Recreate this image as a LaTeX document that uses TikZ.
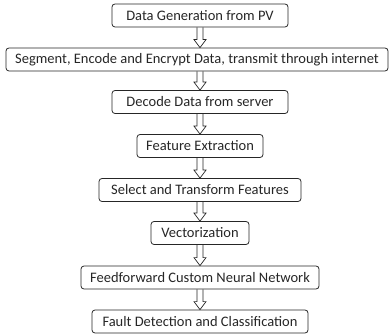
\documentclass[tikz,border=0pt]{standalone}
\usepackage{fontspec}
\setmainfont{Carlito}
\usetikzlibrary{calc}
\tikzset{
  stepbox/.style={draw=black!85, line width=0.8pt, rounded corners=3pt, minimum height=23pt,
    inner xsep=2pt, inner ysep=0pt, text=black!85, font=\fontsize{14.5}{16}\selectfont},
  flowarrow/.style={draw=black!85, line width=0.7pt, line join=miter}
}
% hollow down arrow from one box to the next, on the common axis
\newcommand{\flowstep}[2]{%
  \draw[flowarrow] ($(#1.south -| axis)+(-3pt,0)$) -- ($(#2.north -| axis)+(-3pt,8pt)$)
    -- ++(-3pt,0) -- (#2.north -| axis) -- ($(#2.north -| axis)+(6pt,8pt)$)
    -- ++(-3pt,0) -- ($(#1.south -| axis)+(3pt,0)$);}
\begin{document}
\begin{tikzpicture}[x=1pt,y=1pt]
  \useasboundingbox (0,0) rectangle (390,-336);
  \coordinate (axis) at (200,0);
  \node[stepbox, minimum width=176pt] (gen) at (200,-15.5) {Data Generation from PV};
  \node[stepbox, minimum width=382pt] (send) at (197,-59.5) {Segment, Encode and Encrypt Data, transmit through internet};
  \node[stepbox, minimum width=176pt] (decode) at (200,-102) {Decode Data from server};
  \node[stepbox, minimum width=126pt] (extract) at (200,-146) {Feature Extraction};
  \node[stepbox, minimum width=202pt] (select) at (200,-190) {Select and Transform Features};
  \node[stepbox, minimum width=98pt] (vector) at (200,-233) {Vectorization};
  \node[stepbox, minimum width=238pt] (ffnn) at (200,-277.5) {Feedforward Custom Neural Network};
  \node[stepbox, minimum width=216pt] (fault) at (200,-321.5) {Fault Detection and Classification};
  \flowstep{gen}{send}
  \flowstep{send}{decode}
  \flowstep{decode}{extract}
  \flowstep{extract}{select}
  \flowstep{select}{vector}
  \flowstep{vector}{ffnn}
  \flowstep{ffnn}{fault}
\end{tikzpicture}
\end{document}
